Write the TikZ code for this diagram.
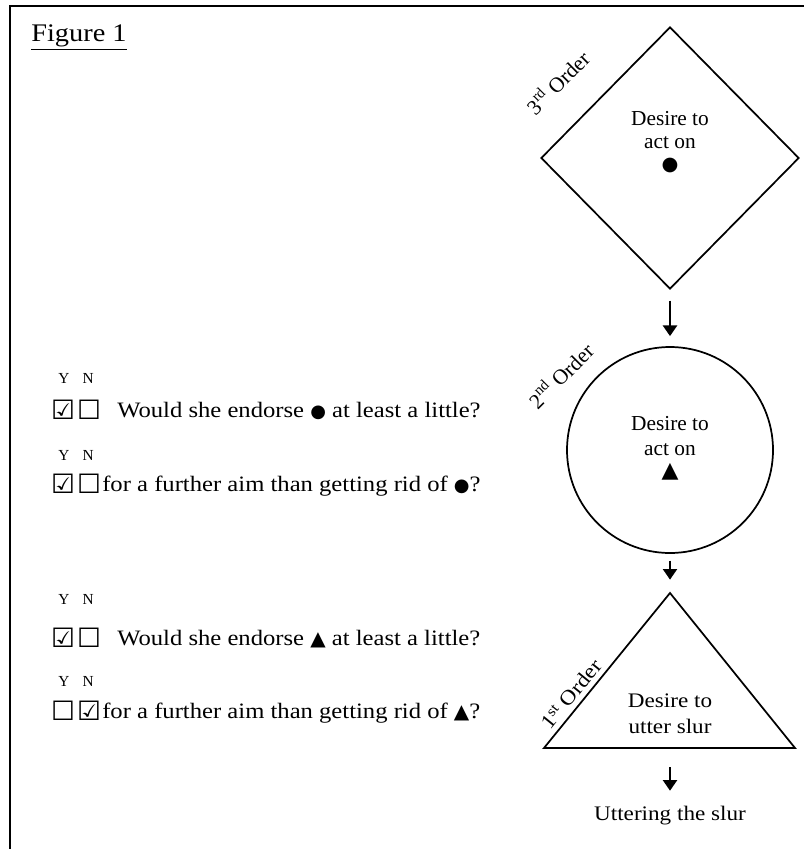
\documentclass[tikz,border=0pt]{standalone}
\usepackage{fontspec}
\setmainfont{Liberation Serif}
\newfontfamily\palfont[FakeStretch=1.12]{Liberation Serif}
\newfontfamily\symfont{DejaVu Sans}
\usetikzlibrary{arrows.meta,positioning,shapes.geometric}
\newcommand{\dotsym}{{\symfont\fontsize{13.5}{13.5}\selectfont ●}}
\newcommand{\trisym}{{\symfont\fontsize{15}{15}\selectfont ▲}}
\tikzset{
  shapeline/.style={draw=black, line width=1.3pt},
  frameline/.style={draw=black, line width=1.8pt},
  flowarr/.style={-{Triangle[length=8pt,width=10.5pt]}, draw=black, line width=1.7pt},
  innertext/.style={font=\fontsize{16}{19}\selectfont, inner sep=0pt, anchor=base},
  innerpal/.style={font=\palfont\fontsize{15.5}{19}\selectfont, inner sep=0pt, anchor=base},
  ordertext/.style={font=\fontsize{16}{19}\selectfont, inner sep=0pt},
  question/.style={font=\palfont\fontsize{16.5}{19}\selectfont, inner sep=0pt, anchor=base west},
  ynlabel/.style={font=\fontsize{11.5}{12}\selectfont, inner sep=0pt, anchor=base west},
  tickbox/.style={font=\symfont\fontsize{20}{22}\selectfont, inner sep=0pt}
}

\begin{document}
\begin{tikzpicture}[x=0.75pt, y=-0.75pt]
  \useasboundingbox (0,0) rectangle (804,849);
  \draw[frameline] (10,849) -- (10,6) -- (804,6);

  \node[font=\palfont\fontsize{19}{22}\selectfont, inner sep=0pt, anchor=base west] (fig) at (31,42) {\underline{Figure 1}};

  % the three orders
  \node[diamond, shapeline, minimum width=193.5pt, minimum height=196.5pt, inner sep=0pt] (dia) at (670,158) {};
  \node[circle, shapeline, minimum size=154.5pt, inner sep=0pt] (circ) at (670,450) {};
  \coordinate (triapex) at (670,593);
  \coordinate (trileft) at (544,748);
  \coordinate (triright) at (795,748);
  \coordinate (tribase) at (670,748);
  \draw[shapeline, line join=miter] (triapex) -- (triright) -- (trileft) -- cycle;

  \node[ordertext, rotate=45] (ord3) at (557,82) {3\textsuperscript{rd} Order};
  \node[ordertext, rotate=45] (ord2) at (560,375) {2\textsuperscript{nd} Order};
  \node[ordertext, font=\palfont\fontsize{15.5}{19}\selectfont, rotate=51] (ord1) at (571,694) {1\textsuperscript{st} Order};

  \node[innertext] (dia1) at (670,125) {Desire to};
  \node[innertext] (dia2) at (670,148) {act on};
  \node[inner sep=0pt, font=\symfont\fontsize{14.5}{14.5}\selectfont] (dia3) at (670,165) {●};

  \node[innertext] (circ1) at (670,430) {Desire to};
  \node[innertext] (circ2) at (670,455) {act on};
  \node[inner sep=0pt, font=\symfont\fontsize{16.5}{16.5}\selectfont] (circ3) at (670,472) {▲};

  \node[innerpal] (tri1) at (670,707) {Desire to};
  \node[innerpal] (tri2) at (670,733) {utter slur};

  \node[innerpal] (utter) at (670,820) {Uttering the slur};

  \draw[flowarr, shorten <=8pt, shorten >=7.5pt] (dia.south) -- (circ.north);
  \draw[flowarr, shorten <=5pt, shorten >=10pt] (circ.south) -- (triapex);
  \draw[flowarr, shorten <=14.25pt, shorten >=11pt] (tribase) -- (utter.north);

  % questions for the 2nd order
  \node[ynlabel] (yn1) at (58,383) {Y\hspace{10pt}N};
  \node[tickbox] (box1y) at (63,410) {☑};
  \node[tickbox] (box1n) at (89,410) {☐};
  \node[question] (q1) at (117,417) {Would she endorse \dotsym{} at least a little?};
  \node[ynlabel] (yn2) at (58,460) {Y\hspace{10pt}N};
  \node[tickbox] (box2y) at (63,484) {☑};
  \node[tickbox] (box2n) at (89,484) {☐};
  \node[question] (q2) at (102,491) {for a further aim than getting rid of \dotsym?};

  % questions for the 1st order
  \node[ynlabel] (yn3) at (58,604) {Y\hspace{10pt}N};
  \node[tickbox] (box3y) at (63,638) {☑};
  \node[tickbox] (box3n) at (89,638) {☐};
  \node[question] (q3) at (117,645) {Would she endorse \trisym{} at least a little?};
  \node[ynlabel] (yn4) at (58,686) {Y\hspace{10pt}N};
  \node[tickbox] (box4y) at (63,711) {☐};
  \node[tickbox] (box4n) at (89,711) {☑};
  \node[question] (q4) at (102,718) {for a further aim than getting rid of \trisym?};
\end{tikzpicture}
\end{document}
